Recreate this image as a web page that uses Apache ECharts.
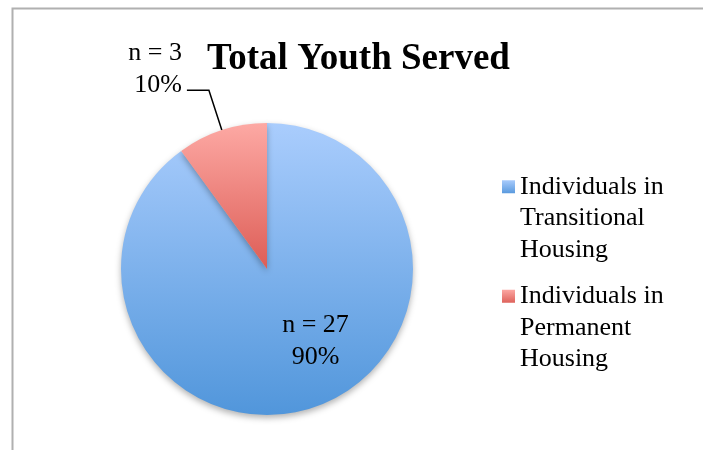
<!DOCTYPE html>
<html>
<head>
<meta charset="utf-8">
<script src="https://cdn.jsdelivr.net/npm/echarts@6/dist/echarts.min.js"></script>
<style>
  html, body { margin: 0; padding: 0; background: #fff; }
  #chart { width: 703px; height: 450px; }
</style>
</head>
<body>
<div id="chart"></div>
<script>
var categories = ["Individuals in Transitional Housing", "Individuals in Permanent Housing"];
var legendNames = ["Individuals in\nTransitional\nHousing", "Individuals in\nPermanent\nHousing"];
var counts = [27, 3];
var percents = [90, 10];

var myChart = echarts.init(document.getElementById("chart"));

function grad(top, bottom) {
  return new echarts.graphic.LinearGradient(0, 0, 0, 1, [
    { offset: 0, color: top },
    { offset: 1, color: bottom }
  ]);
}

var fills = [grad("#aacdfd", "#5196db"), grad("#fda9a4", "#dd5d56")];
var legendFills = [grad("#a8cbfc", "#5a9ade"), grad("#fca7a3", "#de625b")];

var data = categories.map(function (name, i) {
  var item = {
    name: name,
    value: counts[i],
    itemStyle: { color: fills[i] }
  };
  if (i === 0) {
    item.label = {
      show: true,
      position: "inside",
      formatter: "n = " + counts[i] + "\n" + percents[i] + "%",
      fontFamily: "Liberation Serif",
      fontSize: 26,
      lineHeight: 32,
      color: "#000"
    };
  } else {
    // a spacer line under the text lifts it above the end of the leader line
    item.label = {
      show: true,
      position: "outside",
      formatter: "{a|n = " + counts[i] + "}\n{a|" + percents[i] + "%}\n{s| }",
      rich: {
        a: { fontFamily: "Liberation Serif", fontSize: 26, lineHeight: 32, color: "#000" },
        s: { fontSize: 10, lineHeight: 42 }
      }
    };
    item.labelLine = {
      show: true,
      length: 42,
      length2: 22,
      lineStyle: { color: "#000", width: 1.5 }
    };
  }
  return item;
});

var option = {
  backgroundColor: "#fff",
  animation: false,
  title: {
    text: "Total Youth Served",
    left: 202,
    top: 36,
    textStyle: {
      fontFamily: "Liberation Serif",
      fontWeight: "bold",
      fontSize: 37,
      color: "#000"
    }
  },
  legend: {
    orient: "vertical",
    left: 502,
    top: 108,
    padding: 0,
    itemWidth: 13,
    itemHeight: 13,
    itemGap: -48,
    icon: "rect",
    data: categories.map(function (name, i) {
      return { name: name, itemStyle: { color: legendFills[i] } };
    }),
    // two empty lines on top keep the marker level with the first line
    formatter: function (name) {
      return "\n\n" + legendNames[categories.indexOf(name)];
    },
    textStyle: {
      fontFamily: "Liberation Serif",
      fontSize: 26,
      lineHeight: 31.5,
      color: "#000"
    }
  },
  graphic: [
    {
      type: "rect",
      left: 10,
      top: 6,
      shape: { width: 800, height: 600 },
      style: { fill: "none", stroke: "#b0b0b0", lineWidth: 2 },
      silent: true
    }
  ],
  series: [
    {
      type: "pie",
      center: [267, 269],
      radius: [0, 146],
      startAngle: 90,
      clockwise: true,
      data: data,
      itemStyle: {
        shadowBlur: 6,
        shadowOffsetY: 3,
        shadowColor: "rgba(0,0,0,0.3)"
      },
      emphasis: { disabled: true },
      labelLayout: function (params) {
        if (params.dataIndex === 0) {
          return { dx: 25, dy: 0 };
        }
        return {};
      }
    }
  ]
};

myChart.setOption(option);
</script>
</body>
</html>
